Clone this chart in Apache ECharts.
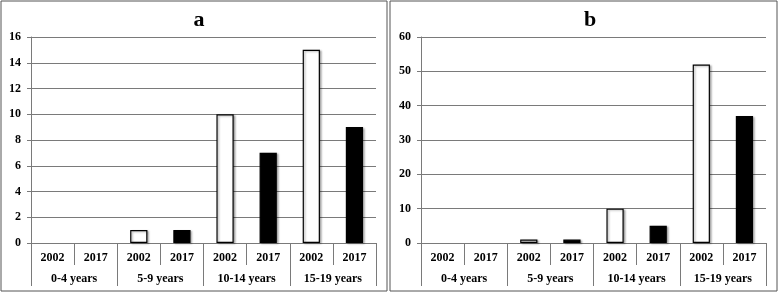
<!DOCTYPE html>
<html><head><meta charset="utf-8">
<script src="https://cdn.jsdelivr.net/npm/echarts@6/dist/echarts.min.js"></script>
<style>html,body{margin:0;padding:0;background:#fff}#c{width:779px;height:292px}</style>
</head><body><div id="c"></div>
<script>
const years = ['2002', '2017'];
const groups = ['0-4 years', '5-9 years', '10-14 years', '15-19 years'];
const a2002 = [0, 1, 10, 15];
const a2017 = [0, 1, 7, 9];
const b2002 = [0, 1, 10, 52];
const b2017 = [0, 1, 5, 37];
const panelTitles = ['a', 'b'];

const yearCats = [];
groups.forEach(() => years.forEach(y => yearCats.push(y)));

const FONT = '"Liberation Serif", "Times New Roman", serif';
const GRAY = '#7a7a7a';

function interleave(vals, slot) {
  const out = [];
  vals.forEach(v => {
    for (let k = 0; k < years.length; k++) {
      if (k === slot) {
        out.push(v === 0 ? { value: v, itemStyle: { borderWidth: 0, opacity: 0 } } : v);
      } else out.push('-');
    }
  });
  return out;
}

const grids = [
  { left: 31, right: 403, top: 37, bottom: 49 },
  { left: 421, right: 13, top: 37, bottom: 49 }
];

const xAxes = [], yAxes = [], series = [];
[0, 1].forEach(i => {
  xAxes.push({
    type: 'category', gridIndex: i, data: yearCats, position: 'bottom',
    axisLine: { show: true, lineStyle: { color: GRAY, width: 1 } },
    axisTick: { show: true, interval: 0, length: 22, lineStyle: { color: GRAY } },
    axisLabel: { interval: 0, margin: 9, color: '#000', fontFamily: FONT, fontWeight: 'bold', fontSize: 12 }
  });
  xAxes.push({
    type: 'category', gridIndex: i, data: groups, position: 'bottom',
    axisLine: { show: false },
    axisTick: { show: true, interval: 0, length: 43, lineStyle: { color: GRAY } },
    axisLabel: { interval: 0, margin: 30, color: '#000', fontFamily: FONT, fontWeight: 'bold', fontSize: 12 }
  });
  yAxes.push({
    type: 'value', gridIndex: i, min: 0, max: i === 0 ? 16 : 60, interval: i === 0 ? 2 : 10,
    axisLine: { show: true, lineStyle: { color: GRAY } },
    axisTick: { show: true, length: 4, lineStyle: { color: GRAY } },
    splitLine: { show: true, lineStyle: { color: GRAY, width: 1 } },
    axisLabel: { margin: 10, color: '#000', fontFamily: FONT, fontWeight: 'bold', fontSize: 12 }
  });
});

const panels = [[a2002, a2017], [b2002, b2017]];
panels.forEach((p, i) => {
  p.forEach((vals, slot) => {
    series.push({
      type: 'bar', name: years[slot], xAxisIndex: i * 2, yAxisIndex: i,
      data: interleave(vals, slot),
      barWidth: '40%', barGap: '-100%',
      itemStyle: {
        color: slot === 0 ? '#ffffff' : '#000000',
        borderColor: '#000', borderWidth: 1.2,
        shadowColor: 'rgba(0,0,0,0.3)', shadowBlur: 2, shadowOffsetX: 1.5, shadowOffsetY: 1
      },
      silent: true, animation: false
    });
  });
});

const chart = echarts.init(document.getElementById('c'), null, { renderer: 'canvas' });
chart.setOption({
  animation: false,
  backgroundColor: '#fff',
  title: [
    { text: panelTitles[0], left: 194, top: 4, textAlign: 'center', textStyle: { fontFamily: FONT, fontWeight: 'bold', fontSize: 22, color: '#000' } },
    { text: panelTitles[1], left: 585, top: 4, textAlign: 'center', textStyle: { fontFamily: FONT, fontWeight: 'bold', fontSize: 22, color: '#000' } }
  ],
  grid: grids,
  xAxis: xAxes,
  yAxis: yAxes,
  series: series,
  graphic: [
    { type: 'rect', shape: { x: 1, y: 1, width: 386, height: 290 }, style: { fill: 'none', stroke: '#555', lineWidth: 1 }, silent: true },
    { type: 'rect', shape: { x: 390, y: 1, width: 387, height: 290 }, style: { fill: 'none', stroke: '#555', lineWidth: 1 }, silent: true }
  ]
});
</script>
</body></html>
